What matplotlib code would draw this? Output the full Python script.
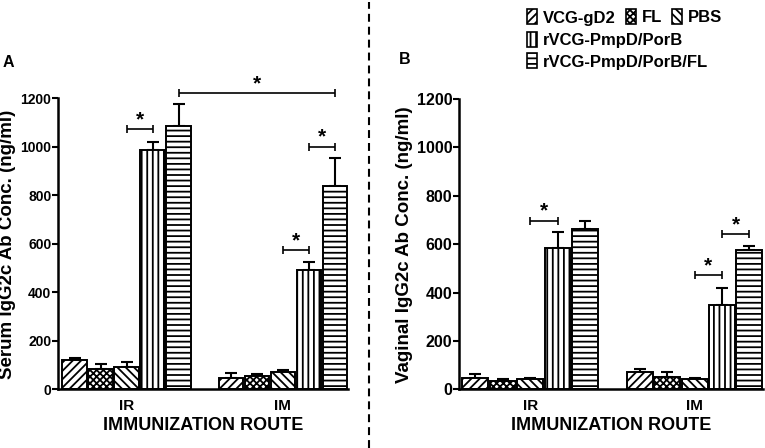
import matplotlib

matplotlib.use("Agg")
import matplotlib.pyplot as plt
from matplotlib.lines import Line2D
from matplotlib.patches import Patch

plt.rcParams["font.family"] = ["Liberation Sans", "DejaVu Sans"]
plt.rcParams["font.weight"] = "bold"
plt.rcParams["axes.labelweight"] = "bold"
plt.rcParams["hatch.linewidth"] = 1.3

# ── Data ──────────────────────────────────────────────────────────────────────
groups = ["VCG-gD2", "FL", "PBS", "rVCG-PmpD/PorB", "rVCG-PmpD/PorB/FL"]
hatches = ["////", "xxxxx", "\\\\\\\\", "|||", "---"]
routes = ["IR", "IM"]

serum_ir = [122, 86, 91, 985, 1084]
serum_ir_err = [8, 17, 22, 33, 93]
serum_im = [47, 55, 71, 494, 840]
serum_im_err = [23, 8, 8, 31, 116]

vag_ir = [49, 37, 42, 583, 663]
vag_ir_err = [14, 6, 5, 69, 31]
vag_im = [71, 53, 42, 351, 577]
vag_im_err = [12, 18, 5, 70, 17]

# significance brackets: (bar index a, bar index b, height)
serum_sig = [(2, 3, 1073), (4, 10, 1220), (8, 9, 575), (9, 10, 1000)]
vag_sig = [(2, 3, 697), (8, 9, 471), (9, 10, 642)]

GROUP_GAP = 6  # bar slots between start of IR and IM groups
BAR_W = 0.95


def draw_panel(ax, ir, ir_err, im, im_err, sig, ylabel, tick_fs, x_left):
    for g, (vals, errs) in enumerate([(ir, ir_err), (im, im_err)]):
        for i in range(len(groups)):
            x = g * GROUP_GAP + i
            ax.bar(x, vals[i], width=BAR_W, color="white", edgecolor="black",
                   linewidth=1.4, hatch=hatches[i], zorder=2)
            ax.errorbar(x, vals[i], yerr=[[0], [errs[i]]], fmt="none",
                        ecolor="black", elinewidth=1.5, capsize=4.5,
                        capthick=1.5, zorder=1)

    for a, b, h in sig:
        mid = (a + b) / 2
        ax.errorbar(mid, h, xerr=(b - a) / 2, fmt="none", ecolor="black",
                    elinewidth=1.2, capsize=3, capthick=1.2, clip_on=False)
        ax.annotate("*", (mid, h), xytext=(0, 0), textcoords="offset points",
                    ha="center", va="bottom", fontsize=15, fontweight="bold",
                    annotation_clip=False)

    ax.set_ylim(0, 1200)
    ax.set_xlim(x_left, GROUP_GAP + len(groups) - 0.5)
    ax.set_yticks(range(0, 1201, 200))
    ax.set_xticks([2, GROUP_GAP + 2])
    ax.set_xticklabels(routes, fontweight="bold")
    ax.set_yticklabels([str(v) for v in range(0, 1201, 200)],
                       fontweight="bold")
    ax.tick_params(axis="x", length=0, pad=7, labelsize=11)
    ax.tick_params(axis="y", length=4, width=1.5, labelsize=tick_fs, pad=1)
    for s in ["top", "right"]:
        ax.spines[s].set_visible(False)
    for s in ["left", "bottom"]:
        ax.spines[s].set_linewidth(1.8)
    ax.set_ylabel(ylabel, fontsize=13.5, fontweight="bold", labelpad=3)
    ax.set_xlabel("IMMUNIZATION ROUTE", fontsize=13, fontweight="bold",
                  labelpad=3)


fig = plt.figure(figsize=(7.65, 4.48), dpi=100)
ax_a = fig.add_axes([0.0762, 0.1306, 0.3787, 0.65])
ax_b = fig.add_axes([0.6004, 0.1306, 0.397, 0.6484])

draw_panel(ax_a, serum_ir, serum_ir_err, serum_im, serum_im_err, serum_sig,
           "Serum IgG2c Ab Conc. (ng/ml)", 10, -0.63)
draw_panel(ax_b, vag_ir, vag_ir_err, vag_im, vag_im_err, vag_sig,
           "Vaginal IgG2c Ab Conc. (ng/ml)", 11.5, -0.59)

fig.text(0.004, 1 - 62 / 448, "A", fontsize=11.5, fontweight="bold",
         va="center")
fig.text(0.522, 1 - 60 / 448, "B", fontsize=11.5, fontweight="bold",
         va="center")

# dashed divider
fig.add_artist(Line2D([0.483, 0.483], [0, 0.995], transform=fig.transFigure,
                      color="black", linewidth=1.5, linestyle=(0, (3.8, 2.4))))

# legend
handles = [Patch(facecolor="white", edgecolor="black", hatch=h, linewidth=1.2)
           for h in hatches]
leg_kw = dict(frameon=False, handlelength=0.6, handleheight=1.0,
              handletextpad=0.35, columnspacing=0.6, borderpad=0,
              labelspacing=0.3, loc="upper left",
              prop={"weight": "bold", "size": 12})
fig.legend(handles[:3], groups[:3], ncol=3,
           bbox_to_anchor=(519 / 765, 1 - 1 / 448), **leg_kw)
fig.legend(handles[3:], groups[3:], ncol=1,
           bbox_to_anchor=(519 / 765, 1 - 24 / 448), **leg_kw)

fig.savefig("out.png", dpi=100)
